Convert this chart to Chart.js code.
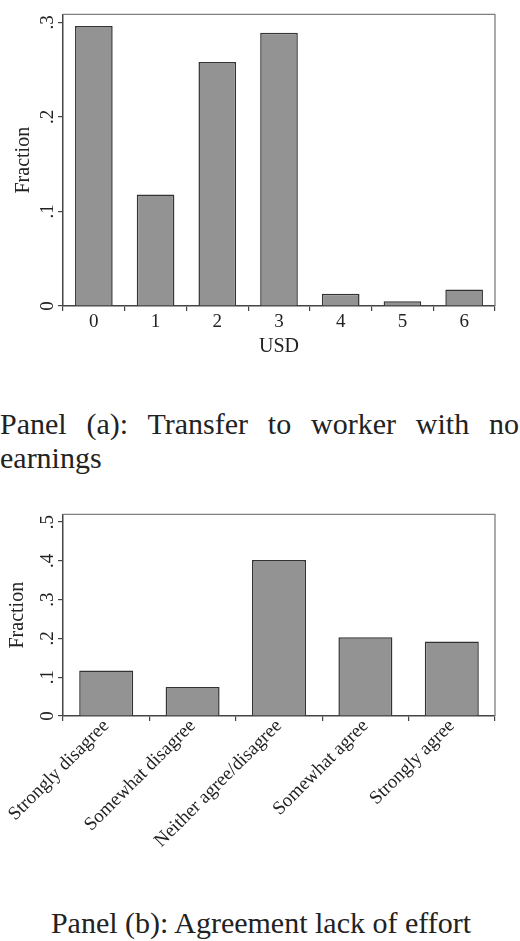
<!DOCTYPE html>
<html>
<head>
<meta charset="utf-8">
<script src="https://cdn.jsdelivr.net/npm/chart.js@4.4.1/dist/chart.umd.min.js"></script>
<style>
  html, body { margin: 0; padding: 0; background: #fff; }
  body { width: 520px; height: 941px; position: relative; overflow: hidden; font-family: "Liberation Serif", "Times New Roman", serif; color: #222; }
  .box { position: absolute; left: 0; width: 520px; }
  #wrapA { top: 0; height: 370px; }
  #wrapB { top: 500px; height: 380px; }
  .cap { position: absolute; font-size: 30px; line-height: 34px; }
  #capA { left: 0; top: 407px; width: 519px; text-align: justify; text-align-last: left; }
  #capB { left: 0; top: 906px; width: 522px; text-align: center; }
</style>
</head>
<body>
<div class="box" id="wrapA"><canvas id="chartA"></canvas></div>
<div class="cap" id="capA">Panel (a): Transfer to worker with no earnings</div>
<div class="box" id="wrapB"><canvas id="chartB"></canvas></div>
<div class="cap" id="capB">Panel (b): Agreement lack of effort</div>
<script>
// ---- Data ----
const usdCategories = ['0', '1', '2', '3', '4', '5', '6'];
const usdFractions = [0.296, 0.118, 0.258, 0.289, 0.013, 0.005, 0.0175];
const usdTicks = [0, 0.1, 0.2, 0.3];

const agreeCategories = ['Strongly disagree', 'Somewhat disagree', 'Neither agree/disagree', 'Somewhat agree', 'Strongly agree'];
const agreeFractions = [0.117, 0.075, 0.402, 0.203, 0.192];
const agreeTicks = [0, 0.1, 0.2, 0.3, 0.4, 0.5];

// ---- Style ----
const SERIF = '"Liberation Serif", "Times New Roman", serif';
const BAR_FILL = '#939393';
const BAR_EDGE = '#333333';
const AXIS = '#444444';
const FRAME = '#808080';
const TEXT = '#222222';

const framePlugin = {
  id: 'frame',
  afterDraw(chart) {
    const {ctx, chartArea: a} = chart;
    ctx.save();
    ctx.strokeStyle = FRAME;
    ctx.lineWidth = 1.3;
    ctx.beginPath();
    ctx.moveTo(a.left, a.top);
    ctx.lineTo(a.right, a.top);
    ctx.lineTo(a.right, a.bottom);
    ctx.stroke();
    ctx.restore();
  }
};

function fmt(v) {
  if (Math.abs(v) < 1e-9) return '0';
  return (Math.round(v * 10) / 10).toString().replace(/^0/, '');
}

function makeChart(id, cats, vals, ticks, yMax, opts) {
  return new Chart(document.getElementById(id), {
    type: 'bar',
    data: {
      labels: cats,
      datasets: [{
        data: vals,
        backgroundColor: BAR_FILL,
        borderColor: BAR_EDGE,
        borderWidth: 1.5,
        barPercentage: opts.barPct,
        categoryPercentage: 1.0
      }]
    },
    options: {
      responsive: true,
      maintainAspectRatio: false,
      animation: false,
      layout: { padding: { top: 13, right: 25, left: 0, bottom: 0 } },
      plugins: { legend: { display: false }, tooltip: { enabled: false } },
      scales: {
        x: {
          grid: { display: true, drawOnChartArea: false, tickLength: 5, color: AXIS, tickColor: AXIS, lineWidth: 1.2 },
          border: { display: true, color: AXIS, width: 1.5 },
          ticks: {
            color: TEXT,
            font: { family: SERIF, size: opts.xFont },
            padding: opts.xPad,
            autoSkip: false,
            minRotation: opts.xRot,
            maxRotation: opts.xRot
          },
          title: opts.xTitle ? {
            display: true, text: opts.xTitle, color: TEXT,
            font: { family: SERIF, size: 20 },
            padding: { top: 0, bottom: opts.xTitlePad }
          } : { display: false },
          afterFit(scale) { scale.height = opts.xHeight; }
        },
        y: {
          min: 0,
          max: yMax,
          afterBuildTicks(scale) { scale.ticks = ticks.map(v => ({ value: v })); },
          grid: { display: true, drawOnChartArea: false, tickLength: 5, color: AXIS, tickColor: AXIS, lineWidth: 1.2 },
          border: { display: true, color: AXIS, width: 1.5 },
          ticks: {
            color: TEXT,
            font: { family: SERIF, size: 19 },
            padding: 3,
            minRotation: 90,
            maxRotation: 90,
            crossAlign: 'center',
            callback: (v) => fmt(v)
          },
          title: {
            display: true, text: 'Fraction', color: TEXT,
            font: { family: SERIF, size: 20 },
            padding: { top: opts.yTitlePad, bottom: 0 }
          },
          afterFit(scale) { scale.width = 63; }
        }
      }
    },
    plugins: [framePlugin]
  });
}

function draw() {
  makeChart('chartA', usdCategories, usdFractions, usdTicks, 0.3084, {
    barPct: 0.61, xFont: 19, xPad: 0, xRot: 0, xTitle: 'USD', xTitlePad: 11, xHeight: 64, yTitlePad: 12
  });
  makeChart('chartB', agreeCategories, agreeFractions, agreeTicks, 0.5197, {
    barPct: 0.625, xFont: 19, xPad: -6, xRot: 45, xTitle: null, xTitlePad: 0, xHeight: 164, yTitlePad: 6
  });
}

if (document.fonts && document.fonts.load) {
  document.fonts.load('19px "Liberation Serif"').then(draw, draw);
} else {
  draw();
}
</script>
</body>
</html>
